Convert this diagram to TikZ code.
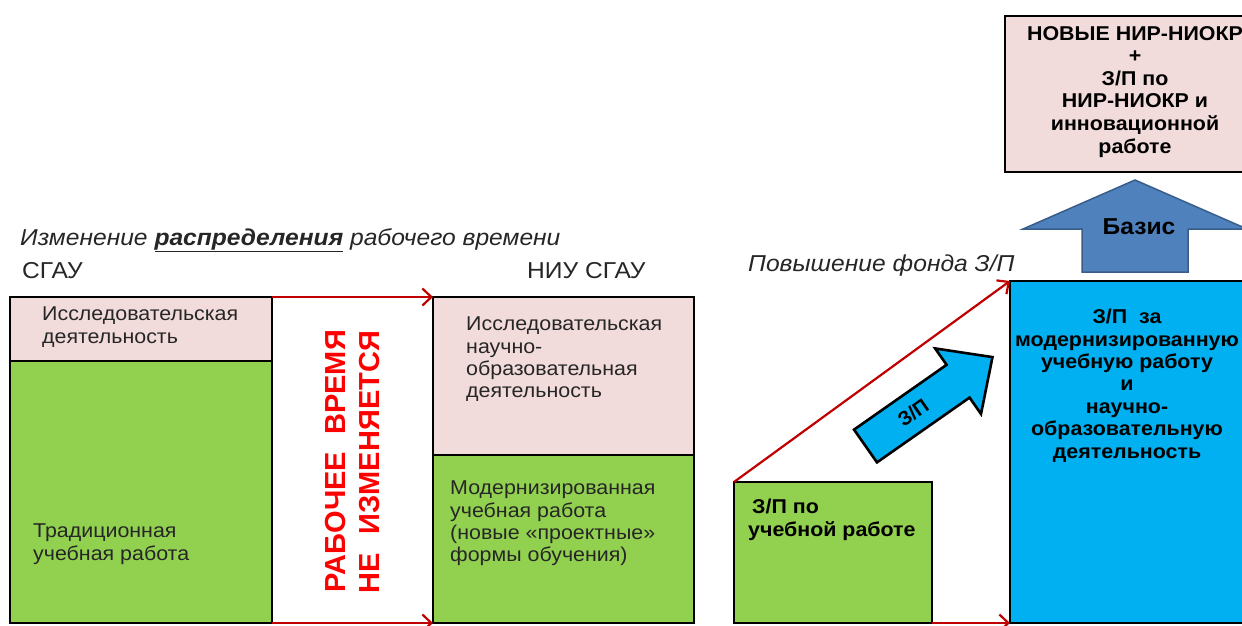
\documentclass[tikz,border=0pt]{standalone}
\usepackage{fontspec}
\setmainfont{Liberation Sans}[FakeStretch=1.07]
\newfontfamily\vfont{Liberation Sans}
\usetikzlibrary{arrows.meta}
\definecolor{pinkf}{HTML}{F2DCDB}
\definecolor{greenf}{HTML}{92D050}
\definecolor{bluef}{HTML}{00B0F0}
\definecolor{basisf}{HTML}{4F81BD}
\definecolor{basisd}{HTML}{385D8A}
\definecolor{arrred}{HTML}{C00000}
\definecolor{redt}{HTML}{FF0000}
\definecolor{txtgray}{HTML}{262626}
\begin{document}
\begin{tikzpicture}[x=1pt,y=-1pt,
  box/.style={draw=black, line width=2.6pt, inner sep=0pt, outer sep=0pt, anchor=north west},
  redarr/.style={draw=arrred, line width=2.2pt, -{Straight Barb[length=9pt,width=17pt]}},
  lbl/.style={inner sep=0pt, anchor=north west, align=left, text=txtgray, font=\fontsize{20}{22.2}\selectfont},
  blbl/.style={inner sep=0pt, anchor=north, align=center, text=black, font=\fontsize{20}{22.4}\selectfont\bfseries},
  head/.style={inner sep=0pt, anchor=base west, text=txtgray},
  vtext/.style={rotate=90, inner sep=0pt, text=redt, font=\vfont\fontsize{29}{29}\selectfont\bfseries},
]
\useasboundingbox (0,0) rectangle (1242,625);
\clip (0,0) rectangle (1242,625);
\fill[white] (0,0) rectangle (1242,625);

% headings
\node[head, font=\fontsize{23}{23}\selectfont\itshape] (title) at (20,245)
  {Изменение \textbf{\underline{распределения}} рабочего времени};
\node[head, font=\fontsize{23}{23}\selectfont] (sgau) at (22,278) {СГАУ};
\node[head, font=\fontsize{23}{23}\selectfont] (niu) at (527,278) {НИУ СГАУ};
\node[head, font=\fontsize{23}{23}\selectfont\itshape] (fond) at (748,271) {Повышение фонда З/П};

% left boxes
\node[box, fill=pinkf, minimum width=262pt, minimum height=64pt] (lr) at (10,297) {};
\node[box, fill=greenf, minimum width=262pt, minimum height=262pt] (lt) at (10,361) {};
\node[box, fill=pinkf, minimum width=261pt, minimum height=158pt] (nr) at (433,297) {};
\node[box, fill=greenf, minimum width=261pt, minimum height=168pt] (nm) at (433,455) {};

% right boxes
\node[box, fill=greenf, minimum width=198pt, minimum height=141pt] (zu) at (734,482) {};
\node[box, fill=bluef, minimum width=250pt, minimum height=342pt] (zm) at (1010,281) {};
\node[box, fill=pinkf, minimum width=262pt, minimum height=156pt] (nn) at (1005,16) {};

% red connectors
\draw[redarr] (lr.north east) -- (nr.north west);
\draw[redarr] (lt.south east) -- (nm.south west);
\draw[redarr] (zu.north west) -- (zm.north west);
\draw[redarr] (zu.south east) -- (zm.south west);

% box labels
\node[lbl] (lrt) at (42,307) {Исследовательская\\деятельность};
\node[lbl] (ltt) at (33,524) {Традиционная\\учебная работа};
\node[lbl, font=\fontsize{20}{22.3}\selectfont] (nrt) at (466,317) {Исследовательская\\научно-\\образовательная\\деятельность};
\node[lbl, font=\fontsize{20}{22.3}\selectfont] (nmt) at (450,481) {Модернизированная\\учебная работа\\(новые «проектные»\\формы обучения)};

\node[blbl, anchor=north west, align=left] (zut) at (748,499) {\hspace*{4pt}З/П по\\учебной работе};
\node[blbl] (zmt) at (1127,309) {З/П\ \ за\\модернизированную\\учебную работу\\и\\научно-\\образовательную\\деятельность};
\node[blbl, font=\fontsize{20}{22.6}\selectfont\bfseries] (nnt) at (1135,26) {НОВЫЕ НИР-НИОКР\\+\\З/П по\\НИР-НИОКР и\\инновационной\\работе};

% vertical red text
\node[vtext] (rv1) at (336,461) {\makebox[262pt]{РАБОЧЕЕ\hfill ВРЕМЯ}};
\node[vtext] (rv2) at (370,462) {\makebox[262pt]{НЕ\hfill ИЗМЕНЯЕТСЯ}};

% tilted block arrow
\begin{scope}[shift={(865.5,446)}, rotate=35]
  \draw[line width=2.6pt, fill=bluef, line join=miter]
    (0,-20) -- (113,-20) -- (113,-40) -- (155,0) -- (113,40) -- (113,20) -- (0,20) -- cycle;
  \node[transform shape, inner sep=0pt, font=\vfont\fontsize{20}{20}\selectfont\bfseries] (zp) at (58,0) {З/П};
\end{scope}

% Basis arrow
\draw[draw=basisd, line width=1.5pt, fill=basisf, line join=miter]
  (1082,272) -- (1082,229) -- (1023,229) -- (1135,180) -- (1247,229) -- (1188,229) -- (1188,272) -- cycle;
\node[inner sep=0pt, font=\fontsize{23}{23}\selectfont\bfseries] (bz) at (1139,227) {Базис};
\end{tikzpicture}
\end{document}
